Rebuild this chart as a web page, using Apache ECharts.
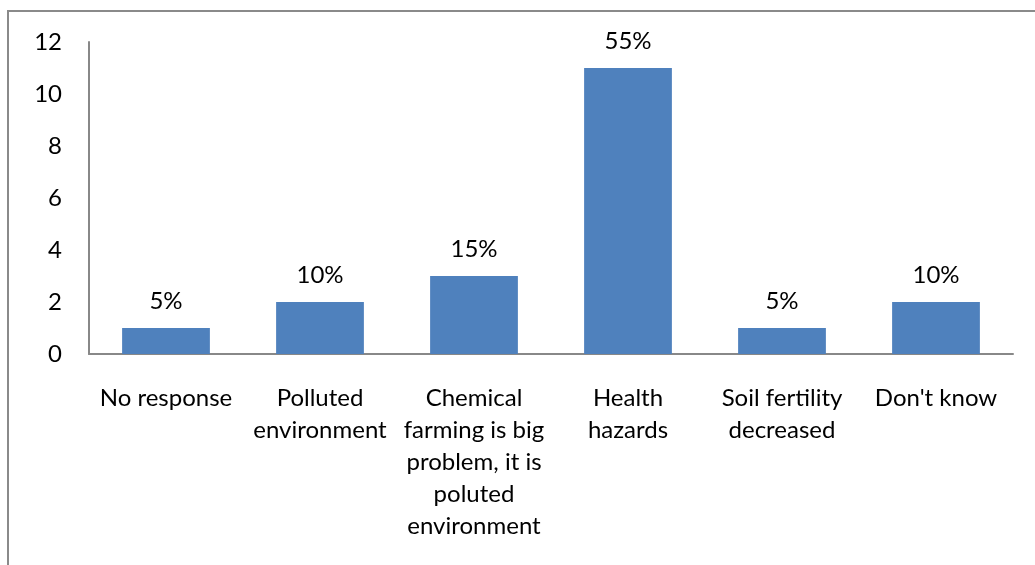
<!DOCTYPE html>
<html>
<head>
<meta charset="utf-8">
<script src="https://cdn.jsdelivr.net/npm/echarts@6/dist/echarts.min.js"></script>
<style>
html,body{margin:0;padding:0;background:#fff;}
#c{width:1035px;height:565px;}
</style>
</head>
<body>
<div id="c"></div>
<script>
var categories = ["No response", "Polluted\nenvironment", "Chemical\nfarming is big\nproblem, it is\npoluted\nenvironment", "Health\nhazards", "Soil fertility\ndecreased", "Don't know"];
var values = [1, 2, 3, 11, 1, 2];
var percentLabels = ["5%", "10%", "15%", "55%", "5%", "10%"];
var yTicks = [0, 2, 4, 6, 8, 10, 12];

var font = "Lato, 'Open Sans', sans-serif";
var chart = echarts.init(document.getElementById('c'));
chart.setOption({
  animation: false,
  graphic: [{
    type: 'rect',
    shape: {x: 8, y: 11, width: 1200, height: 700},
    style: {fill: 'none', stroke: '#8a8a8a', lineWidth: 2},
    silent: true
  }],
  grid: {left: 89, right: 22, top: 42, bottom: 211, containLabel: false},
  xAxis: {
    type: 'category',
    data: categories,
    axisLine: {lineStyle: {color: '#888', width: 2}},
    axisTick: {show: false},
    axisLabel: {color: '#000', fontFamily: font, fontSize: 24, lineHeight: 32, margin: 28, interval: 0}
  },
  yAxis: {
    type: 'value',
    min: yTicks[0],
    max: yTicks[yTicks.length - 1],
    interval: 2,
    axisLine: {show: true, lineStyle: {color: '#888', width: 2}},
    axisTick: {show: false},
    splitLine: {show: false},
    axisLabel: {color: '#000', fontFamily: font, fontSize: 24, margin: 27}
  },
  series: [{
    type: 'bar',
    data: values,
    barWidth: '57%',
    itemStyle: {color: '#4f81bd'},
    label: {
      show: true,
      position: 'top',
      distance: 15,
      color: '#000',
      fontFamily: font,
      fontSize: 24,
      formatter: function (p) { return percentLabels[p.dataIndex]; }
    }
  }]
});
</script>
</body>
</html>
